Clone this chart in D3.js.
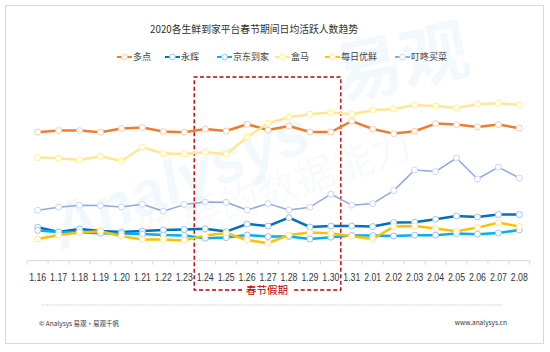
<!DOCTYPE html>
<meta charset="utf-8">
<style>
  body { margin: 0; background: #fff; }
  svg { font-family: "Noto Sans CJK SC", "Liberation Sans", sans-serif; }
  .tick-label { font-size: 11px; fill: #333; }
  .legend text { font-size: 9px; fill: #404040; }
  .footer { font-size: 6.5px; fill: #333; }
</style>
<svg width="550" height="352"></svg>
<script src="https://d3js.org/d3.v7.min.js"></script>
<script>
var dates = ["1.16","1.17","1.18","1.19","1.20","1.21","1.22","1.23","1.24","1.25","1.26","1.27",
             "1.28","1.29","1.30","1.31","2.01","2.02","2.03","2.04","2.05","2.06","2.07","2.08"];

// relative index values (no y axis in the original)
var duodian  = [63.9,64.7,64.7,63.9,65.7,66.2,64.2,63.9,65.5,64.5,67.9,65,67,64,64,69.4,65.5,63.2,64.4,68.2,67.7,66.5,67.7,65.9];
var yonghui  = [16.4,14,15.5,14.5,14,14.5,15,15.3,15.6,14.2,18,17,21.2,16.5,17,17,16.7,18.7,18.9,20.4,22,21.5,22.7,22.7];
var jingdong = [14.8,14,13.9,13.4,13.2,13,12.5,12.3,10.9,11.2,12.5,11.7,11.7,10.5,11.4,12.3,12.2,12,12.4,12.4,13.2,12.9,13.5,15];
var hema     = [51.2,50.9,50,51.9,49.5,56.4,53.2,53,53.9,52.9,61.4,68.4,71.4,72.9,73.7,72.9,74.9,75.5,77.5,77,76,77.9,78.4,77.5];
var meiri    = [10.5,12.5,13.8,14.4,11.9,10.3,10.3,9.8,12.3,13.5,10,8.4,12.5,13.7,13.4,11.9,10.5,16.7,17,15.7,14.4,16.2,18.7,16.7];
var dingdong = [24.9,26.4,27.4,27.2,26.5,27.9,24.4,27.7,29,28.9,25,28.2,25,26.4,32.9,27.4,28.2,34.7,45,44.2,51,40.5,46.4,41];

var names = ["多点","永辉","京东到家","盒马","每日优鲜","叮咚买菜"];
var values = [duodian, yonghui, jingdong, hema, meiri, dingdong];
var holiday = ["1.24","1.30"];

var lineColors   = ["#ED7D31","#0070C0","#00B0F0","#FFE699","#FFC000","#8FAADC"];
var markerColors = ["#F8CBAD","#9DC3E6","#9DC3E6","#FFF27A","#FFE699","#C9D7F0"];
var lineWidths   = [2.5,2.5,2.5,2.5,2.5,1.5];

var svg = d3.select("svg");

// frame
svg.append("rect").attr("x",5.5).attr("y",5.5).attr("width",538).attr("height",338)
  .attr("fill","#fff").attr("stroke","#d9d9d9");

// watermark
var wm = svg.append("g").attr("pointer-events","none");
wm.append("text").attr("transform","translate(62,250) rotate(-22)")
  .style("font-family","Liberation Sans").style("font-style","italic").style("font-weight","bold")
  .style("font-size","62px").attr("fill","#0a96d8").attr("fill-opacity",0.06).text("Analysys");
wm.append("text").attr("transform","translate(340,100) rotate(-12)")
  .style("font-size","68px").style("font-weight","bold").attr("fill","#0a96d8").attr("fill-opacity",0.06).text("易观");
var slogan = wm.append("text").attr("transform","translate(142,250) rotate(-19)")
  .style("font-size","40px").attr("fill","#0a96d8").attr("fill-opacity",0.05);
slogan.append("tspan").attr("fill","#f0a060").attr("fill-opacity",0.08).text("你");
slogan.append("tspan").attr("dx",8).text("要的数据能力");

// title
svg.append("text").attr("x",254).attr("y",33).attr("text-anchor","middle")
  .style("font-size","10.5px").attr("fill","#333")
  .attr("textLength",208).attr("lengthAdjust","spacingAndGlyphs")
  .text("2020各生鲜到家平台春节期间日均活跃人数趋势");

var x = d3.scaleBand().domain(dates).range([27.2, 529.8]);
var y = d3.scaleLinear().domain([0, 100]).range([260, 60]);
var cx = function(d) { return x(d) + x.bandwidth() / 2; };

// legend
var legendX = [117, 165, 217, 275, 325, 395];
var legend = svg.append("g").attr("class","legend");
names.forEach(function(n, i) {
  var g = legend.append("g").attr("transform","translate(" + legendX[i] + ",57)");
  g.append("line").attr("x1",0).attr("x2",15).attr("stroke",lineColors[i]).attr("stroke-width",2);
  g.append("circle").attr("cx",7.5).attr("r",2.8).attr("fill","#fff").attr("stroke",markerColors[i]);
  g.append("text").attr("x",16).attr("dy","0.35em").text(n);
});

// x axis
var axisY = y(0) + 0.7;
svg.append("line").attr("x1",x.range()[0]).attr("x2",x.range()[1])
  .attr("y1",axisY).attr("y2",axisY).attr("stroke","#d9d9d9");
svg.selectAll(".tk").data(dates.concat(["end"])).enter().append("line")
  .attr("x1",function(d,i){ return x.range()[0] + i * x.step(); })
  .attr("x2",function(d,i){ return x.range()[0] + i * x.step(); })
  .attr("y1",axisY).attr("y2",axisY + 4).attr("stroke","#d9d9d9");
svg.selectAll(".tick-label").data(dates).enter().append("text")
  .attr("class","tick-label").attr("x",cx).attr("y",281).attr("text-anchor","middle")
  .style("font-family","Liberation Sans")
  .attr("textLength",17).attr("lengthAdjust","spacingAndGlyphs")
  .text(function(d){ return d; });

// holiday box
var bx0 = x(holiday[0]) - 0.5, bx1 = x(holiday[1]) + x.step() - 0.5;
var by0 = 77, by1 = 290;
var red = "#C00000";
var box = svg.append("g").attr("fill","none").attr("stroke",red).attr("stroke-width",1.4).attr("stroke-dasharray","4,2.5");
box.append("path").attr("d","M" + 242 + "," + by1 + "H" + bx0 + "V" + by0 + "H" + bx1 + "V" + by1 + "H" + 293);
svg.append("text").attr("x",(bx0 + bx1) / 2 - 0.5).attr("y",by1).attr("dy","0.36em")
  .attr("text-anchor","middle").style("font-size","10.5px").attr("fill",red).text("春节假期");

// lines
var line = d3.line().x(function(d,i){ return cx(dates[i]); }).y(function(d){ return y(d); });
values.forEach(function(vals, i) {
  var g = svg.append("g");
  g.append("path").datum(vals).attr("d",line).attr("fill","none")
    .attr("stroke",lineColors[i]).attr("stroke-width",lineWidths[i]).attr("stroke-linejoin","round");
  g.selectAll("circle").data(vals).enter().append("circle")
    .attr("cx",function(d,j){ return cx(dates[j]); }).attr("cy",function(d){ return y(d); })
    .attr("r",3).attr("fill","#fff").attr("stroke",markerColors[i]).attr("stroke-width",1);
});

// footer
svg.append("line").attr("x1",42).attr("x2",503).attr("y1",305).attr("y2",305)
  .attr("stroke","#999").attr("stroke-width",0.6).attr("stroke-dasharray","1.2,1.2");
svg.append("text").attr("class","footer").attr("x",39).attr("y",326).text("© Analysys 易观·易观千帆");
svg.append("text").attr("class","footer").attr("x",507).attr("y",325).attr("text-anchor","end").text("www.analysys.cn");
</script>
